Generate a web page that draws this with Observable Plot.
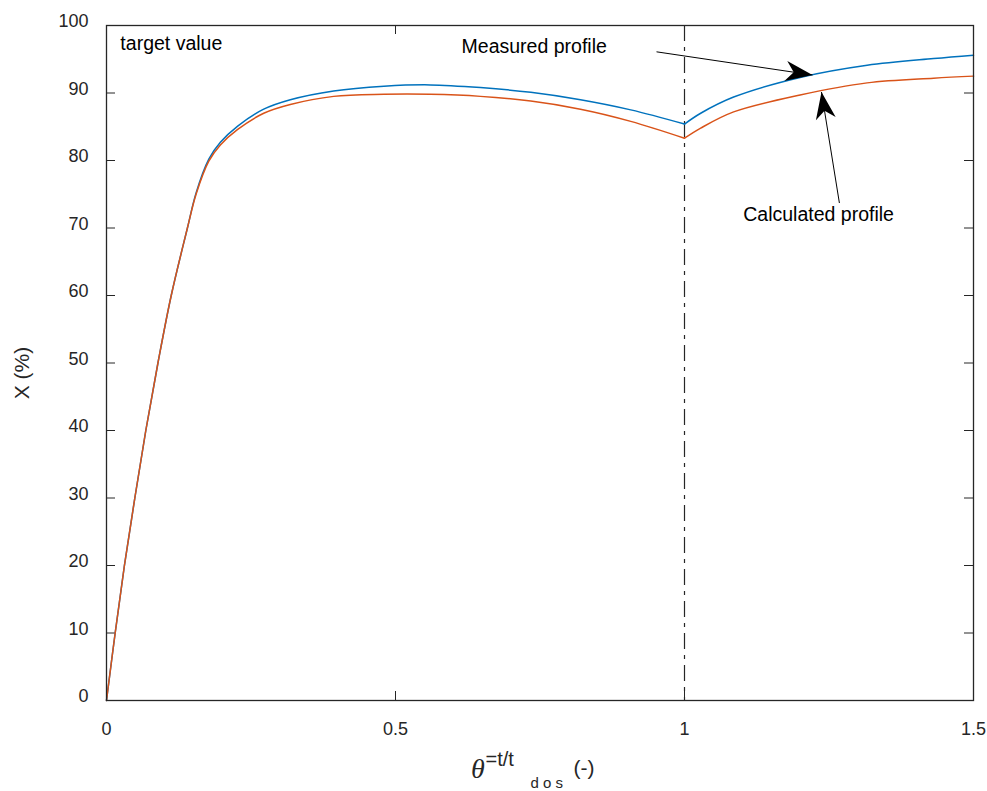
<!DOCTYPE html>
<html>
<head>
<meta charset="utf-8">
<script src="https://cdn.jsdelivr.net/npm/d3@7"></script>
<script src="https://cdn.jsdelivr.net/npm/@observablehq/plot@0.6"></script>
<style>
  html, body { margin: 0; padding: 0; background: #fff; }
</style>
</head>
<body>
<div id="chart"></div>
<script>
// ---- data ----
const theta = [0, 0.015, 0.031, 0.049, 0.068, 0.089, 0.112, 0.140, 0.155, 0.177, 0.197, 0.227, 0.272, 0.318, 0.393, 0.48, 0.56, 0.647, 0.734, 0.82, 0.907, 1.0, 1.028, 1.085, 1.2, 1.316, 1.431, 1.5];
const measured = [0, 10, 20, 30, 40, 50, 60, 70, 75.2, 80.2, 82.7, 85.1, 87.6, 89.0, 90.3, 91.0, 91.2, 90.8, 90.1, 89.0, 87.5, 85.4, 87.0, 89.4, 92.3, 94.1, 95.1, 95.6];
const calculated = [0, 10, 20, 30, 40, 50, 60, 70, 75.0, 79.9, 82.3, 84.6, 87.0, 88.3, 89.5, 89.8, 89.8, 89.5, 88.8, 87.6, 85.8, 83.3, 84.8, 87.2, 89.7, 91.5, 92.2, 92.5];
const switchTheta = [1];
const xTicks = [0, 0.5, 1, 1.5];
const yTicks = [0, 10, 20, 30, 40, 50, 60, 70, 80, 90, 100];

const annoLabels = ["Measured profile", "Calculated profile"];
const annoLabelX = [0.740, 1.232];
const annoLabelY = [96.8, 71.9];
const arrowTailX = [0.9516, 1.268];
const arrowTailY = [96.1, 73.7];
const arrowTipX = [1.2215, 1.237];
const arrowTipY = [92.67, 90.15];
const cornerNote = ["target value"];
const cornerNoteX = [0.024];
const cornerNoteY = [97.3];

// ---- layout ----
const W = 987, H = 791;
const mL = 106, mR = 14, mT = 25, mB = 91;
const plotW = W - mL - mR, plotH = H - mT - mB;
const tickLen = 9;
const ink = "#262626";
const blue = "#0072BD", orange = "#D95319";

function rowsFor(values, series) {
  const rows = [];
  theta.forEach((t, i) => {
    if (t <= switchTheta[0]) rows.push({t, v: values[i], series, phase: 1});
    if (t >= switchTheta[0]) rows.push({t, v: values[i], series, phase: 2});
  });
  return rows;
}
const measRows = rowsFor(measured, "Measured");
const calcRows = rowsFor(calculated, "Calculated");

const arrows = annoLabels.map((label, i) => {
  const kx = plotW / 1.5, ky = plotH / 100;
  const ang = Math.atan2(-(arrowTipY[i] - arrowTailY[i]) * ky, (arrowTipX[i] - arrowTailX[i]) * kx) * 180 / Math.PI;
  return {label, lx: annoLabelX[i], ly: annoLabelY[i], x1: arrowTailX[i], y1: arrowTailY[i], x2: arrowTipX[i], y2: arrowTipY[i], ang};
});

const headSymbol = {
  draw(ctx) {
    ctx.moveTo(0, 0);
    ctx.lineTo(-27, -10);
    ctx.lineTo(-19, 0);
    ctx.lineTo(-27, 10);
    ctx.closePath();
  }
};

const sans = "'Liberation Sans', Arial, Helvetica, sans-serif";

const chart = Plot.plot({
  width: W,
  height: H,
  marginLeft: mL,
  marginRight: mR,
  marginTop: mT,
  marginBottom: mB,
  style: {fontFamily: sans, fontSize: "18px", color: ink, background: "#fff"},
  x: {domain: [0, 1.5]},
  y: {domain: [0, 100]},
  marks: [
    Plot.axisX({ticks: xTicks, tickSize: 0, tickPadding: 22, tickFormat: d => String(d), label: null, fontSize: 18}),
    Plot.axisY({ticks: yTicks, tickSize: 0, tickPadding: 18, dy: -4, tickFormat: d => String(d), label: null, fontSize: 18}),
    // inward ticks on all four sides
    Plot.tickY(yTicks, {y: d => d, insetRight: plotW - tickLen, stroke: ink}),
    Plot.tickY(yTicks, {y: d => d, insetLeft: plotW - tickLen, stroke: ink}),
    Plot.tickX(xTicks, {x: d => d, insetTop: plotH - tickLen, stroke: ink}),
    Plot.tickX(xTicks, {x: d => d, insetBottom: plotH - tickLen, stroke: ink}),
    Plot.ruleX(switchTheta, {x: d => d, stroke: ink, strokeWidth: 1.2, strokeDasharray: "16,6,4,6"}),
    Plot.line(measRows, {x: "t", y: "v", z: "phase", stroke: blue, strokeWidth: 1.5, curve: "catmull-rom"}),
    Plot.line(calcRows, {x: "t", y: "v", z: "phase", stroke: orange, strokeWidth: 1.5, curve: "catmull-rom"}),
    Plot.frame({stroke: ink, strokeWidth: 1.3}),
    // annotations
    Plot.link(arrows, {x1: "x1", y1: "y1", x2: "x2", y2: "y2", stroke: "#000", strokeWidth: 1}),
    Plot.dot(arrows, {x: "x2", y: "y2", symbol: headSymbol, rotate: "ang", fill: "#000", stroke: "none"}),
    Plot.text(arrows, {x: "lx", y: "ly", text: "label", fill: "#000", fontSize: 19.5}),
    Plot.text(cornerNote, {x: cornerNoteX, y: cornerNoteY, text: d => d, textAnchor: "start", fill: "#000", fontSize: 19.5}),
    // axis titles
    Plot.text(["X (%)"], {frameAnchor: "left", textAnchor: "middle", dx: -84, dy: 10, rotate: -90, fontSize: 21, fill: ink}),
    Plot.text(["\u03B8"], {frameAnchor: "bottom", textAnchor: "start", lineAnchor: "bottom", dx: -69, dy: 77, fontSize: 28, fontFamily: "'Liberation Serif', 'DejaVu Serif', serif", fontStyle: "italic", fill: ink}),
    Plot.text(["=t/t"], {frameAnchor: "bottom", textAnchor: "start", lineAnchor: "bottom", dx: -54.5, dy: 65, fontSize: 20, fill: ink}),
    Plot.text(["d o s"], {frameAnchor: "bottom", textAnchor: "start", lineAnchor: "bottom", dx: -9.5, dy: 87, fontSize: 15, fill: ink}),
    Plot.text(["(-)"], {frameAnchor: "bottom", textAnchor: "start", lineAnchor: "bottom", dx: 33.5, dy: 74, fontSize: 21, fill: ink})
  ]
});
document.getElementById("chart").append(chart);
</script>
</body>
</html>
